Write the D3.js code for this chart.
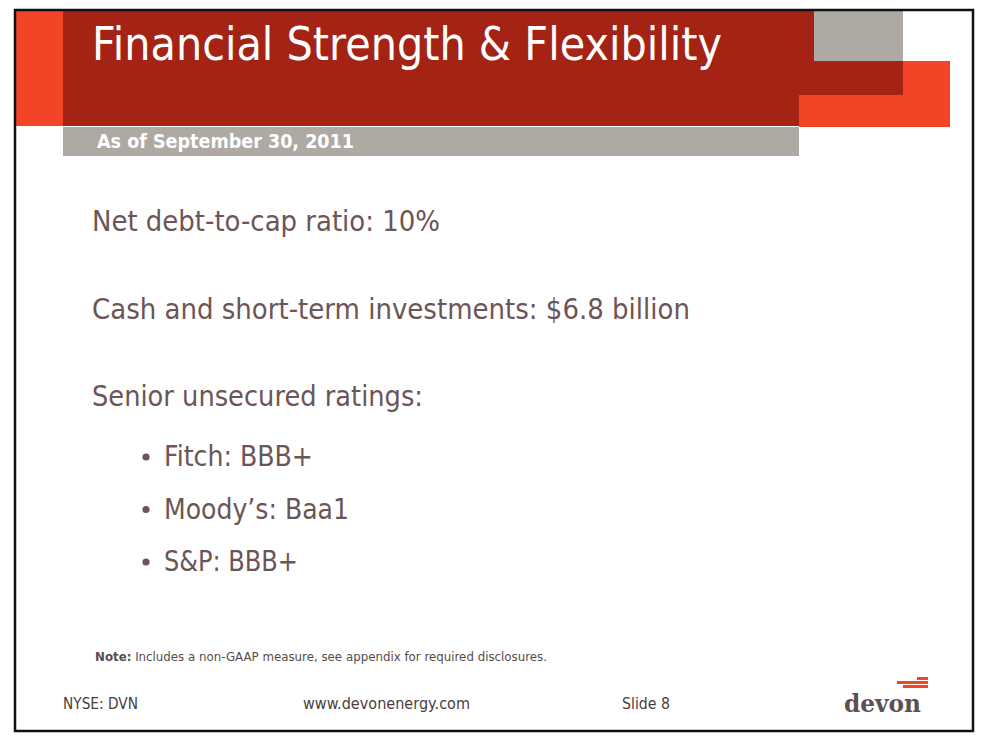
<!DOCTYPE html>
<html>
<head>
<meta charset="utf-8">
<script src="https://cdn.jsdelivr.net/npm/d3@7"></script>
<style>
  body { margin: 0; background: #fff; }
  text { font-family: "DejaVu Sans", "Noto Sans", sans-serif; }
</style>
</head>
<body>
<div id="slide"></div>
<script>
// slide content
const titleText = "Financial Strength & Flexibility";
const subtitleText = "As of September 30, 2011";
const headlines = ["Net debt-to-cap ratio: 10%", "Cash and short-term investments: $6.8 billion", "Senior unsecured ratings:"];
const headlineWidths = [348, 598, 331];
const ratings = ["Fitch: BBB+", "Moody\u2019s: Baa1", "S&P: BBB+"];
const ratingWidths = [149, 185, 134];
const footerItems = ["NYSE: DVN", "www.devonenergy.com", "Slide 8"];
const footerX = [63, 303, 622];
const footerWidths = [75, 167, 48];
const logoBars = [[917, 928], [897, 928], [903, 928]];

const W = 985, H = 739;
const textColor = "#6b5556";
const red = "#a42314", orange = "#f44428", gray = "#aeaaa3";

const svg = d3.select("#slide").append("svg")
    .attr("width", W)
    .attr("height", H);

// header blocks
svg.append("rect").attr("x", 15).attr("y", 11).attr("width", 48).attr("height", 115).attr("fill", orange);
svg.append("rect").attr("x", 63).attr("y", 11).attr("width", 840).attr("height", 115).attr("fill", red);
svg.append("rect").attr("x", 814).attr("y", 11).attr("width", 89).attr("height", 50).attr("fill", gray);
svg.append("rect").attr("x", 903).attr("y", 61).attr("width", 47).attr("height", 66).attr("fill", orange);
svg.append("rect").attr("x", 799).attr("y", 95).attr("width", 151).attr("height", 32).attr("fill", orange);
svg.append("rect").attr("x", 63).attr("y", 127).attr("width", 736).attr("height", 29).attr("fill", gray);

svg.append("text")
    .attr("x", 92).attr("y", 60)
    .attr("fill", "#fff")
    .style("font-size", "46px")
    .attr("textLength", 630).attr("lengthAdjust", "spacingAndGlyphs")
    .text(titleText);

svg.append("text")
    .attr("x", 97).attr("y", 148)
    .attr("fill", "#fff")
    .style("font-size", "20px").style("font-weight", "bold")
    .attr("textLength", 257).attr("lengthAdjust", "spacingAndGlyphs")
    .text(subtitleText);

// body lines
const yHead = d3.scaleLinear().domain([0, 2]).range([231, 406]);
const yRate = d3.scaleLinear().domain([0, 2]).range([466, 571]);

svg.selectAll(".headline")
    .data(headlines)
    .enter()
    .append("text")
    .attr("class", "headline")
    .attr("x", 92)
    .attr("y", (d, i) => yHead(i))
    .attr("fill", textColor)
    .style("font-size", "29px")
    .attr("textLength", (d, i) => headlineWidths[i])
    .attr("lengthAdjust", "spacingAndGlyphs")
    .text(d => d);

const rate = svg.selectAll(".rating")
    .data(ratings)
    .enter()
    .append("g")
    .attr("class", "rating")
    .attr("transform", (d, i) => `translate(0,${yRate(i)})`);

rate.append("circle")
    .attr("cx", 146).attr("cy", -9).attr("r", 3.6)
    .attr("fill", textColor);

rate.append("text")
    .attr("x", 164)
    .attr("fill", textColor)
    .style("font-size", "29px")
    .attr("textLength", (d, i) => ratingWidths[i])
    .attr("lengthAdjust", "spacingAndGlyphs")
    .text(d => d);

// note
const note = svg.append("text")
    .attr("x", 95).attr("y", 661)
    .attr("fill", "#5a4a4a")
    .style("font-size", "11.5px")
    .attr("textLength", 452).attr("lengthAdjust", "spacingAndGlyphs");
note.append("tspan").style("font-weight", "bold").text("Note:");
note.append("tspan").text(" Includes a non-GAAP measure, see appendix for required disclosures.");

// footer
svg.selectAll(".footer")
    .data(footerItems)
    .enter()
    .append("text")
    .attr("class", "footer")
    .attr("x", (d, i) => footerX[i])
    .attr("y", 709)
    .attr("fill", "#4a3d3d")
    .style("font-size", "15px")
    .attr("textLength", (d, i) => footerWidths[i])
    .attr("lengthAdjust", "spacingAndGlyphs")
    .text(d => d);

// devon logo
svg.selectAll(".bar")
    .data(logoBars)
    .enter()
    .append("rect")
    .attr("class", "bar")
    .attr("x", d => d[0])
    .attr("y", (d, i) => 677 + i * 4)
    .attr("width", d => d[1] - d[0])
    .attr("height", 3)
    .attr("fill", orange);

svg.append("text")
    .attr("x", 844).attr("y", 712)
    .attr("fill", "#5e4f51")
    .style("font-family", "'DejaVu Serif', 'Liberation Serif', serif")
    .style("font-size", "25px")
    .style("font-weight", "bold")
    .attr("textLength", 77).attr("lengthAdjust", "spacingAndGlyphs")
    .text("devon");

// frame
svg.append("rect")
    .attr("x", 15).attr("y", 10)
    .attr("width", 958).attr("height", 721)
    .attr("fill", "none")
    .attr("stroke", "#111")
    .attr("stroke-width", 2.5);
</script>
</body>
</html>
